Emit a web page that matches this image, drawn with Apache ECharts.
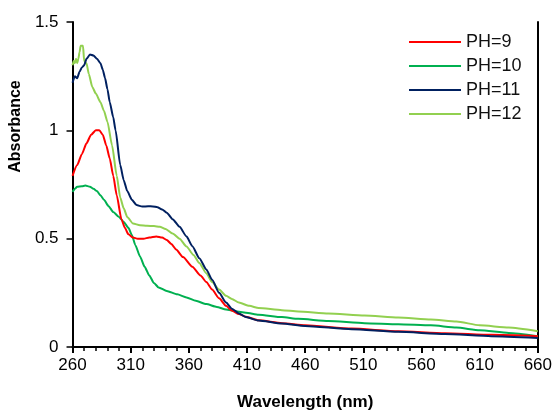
<!DOCTYPE html>
<html>
<head>
<meta charset="utf-8">
<script src="https://cdn.jsdelivr.net/npm/echarts@6/dist/echarts.min.js"></script>
<style>
html,body{margin:0;padding:0;background:#fff;}
#c{width:555px;height:416px;}
</style>
</head>
<body>
<div id="c"></div>
<script>
// X axis
const xMin = 260, xMax = 660, xStep = 50;
const yTicks = [0, 0.5, 1, 1.5];

// PH=9
const wl9 = [260,264,268,272,276,280,283,286,289,292,295,298,302,305,308,312,316,321,326,332,337,341,345,349,355,363,370,375,380,386,392,397,403,409,420,440,460,500,540,580,620,660];
const ab9 = [0.79,0.84,0.89,0.94,0.98,1.0,1.0,0.98,0.93,0.87,0.79,0.70,0.59,0.55,0.52,0.505,0.50,0.50,0.505,0.51,0.505,0.494,0.475,0.45,0.415,0.37,0.33,0.30,0.265,0.225,0.19,0.168,0.152,0.14,0.123,0.11,0.10,0.085,0.073,0.064,0.056,0.05];

// PH=10
const wl10 = [260,262,264,268,271,275,278,281,284,287,291,295,300,304,308,311,314,318,322,326,330,334,341,350,358,366,375,384,392,400,409,420,440,454,480,511,540,568,590,610,635,660];
const ab10 = [0.716,0.73,0.74,0.742,0.745,0.74,0.73,0.72,0.70,0.68,0.65,0.623,0.60,0.577,0.55,0.517,0.47,0.418,0.37,0.33,0.295,0.275,0.259,0.243,0.229,0.213,0.198,0.185,0.173,0.165,0.158,0.149,0.138,0.13,0.12,0.11,0.105,0.10,0.09,0.077,0.065,0.05];

// PH=11
const wl11 = [260,262,264,266,268,270,272,275,278,281,284,286,288,290,292,295,297,301,304,307,311,315,320,325,329,333,337,341,346,352,358,363,369,375,380,386,392,397,403,409,420,440,460,500,540,580,620,660];
const ab11 = [1.22,1.25,1.24,1.27,1.29,1.30,1.33,1.35,1.345,1.33,1.31,1.28,1.24,1.19,1.13,1.06,1.00,0.84,0.77,0.72,0.68,0.655,0.648,0.65,0.649,0.645,0.635,0.62,0.59,0.555,0.51,0.465,0.41,0.358,0.31,0.25,0.205,0.177,0.155,0.138,0.122,0.108,0.097,0.082,0.07,0.06,0.05,0.042];

// PH=12
const wl12 = [260,261,262,263,264,265,266,267,268,269,270,272,274,277,280,284,287,290,294,298,301,304,307,312,318,324,330,335,340,346,352,358,364,369,375,380,386,392,397,403,412,420,440,454,480,511,540,568,590,610,635,660];
const ab12 = [1.30,1.32,1.31,1.33,1.31,1.33,1.36,1.39,1.39,1.39,1.32,1.31,1.26,1.20,1.17,1.13,1.09,1.04,0.93,0.79,0.69,0.64,0.60,0.57,0.562,0.56,0.558,0.555,0.545,0.524,0.50,0.464,0.425,0.388,0.34,0.30,0.265,0.236,0.222,0.205,0.19,0.18,0.17,0.164,0.155,0.145,0.136,0.127,0.118,0.10,0.09,0.073];

const names = ['PH=9','PH=10','PH=11','PH=12'];
const colors = ['#ff0000','#00b050','#002060','#92d050'];
const wls = [wl9, wl10, wl11, wl12];
const abs = [ab9, ab10, ab11, ab12];

const FONT = "'Liberation Sans',Arial,sans-serif";

const chart = echarts.init(document.getElementById('c'), null, {renderer:'canvas'});
const series = names.map((n,i)=>({
  name:n, type:'line', symbol:'none', smooth:0.2, smoothMonotone:'x',
  color: colors[i],
  lineStyle:{width:2, color: colors[i]},
  data: wls[i].map((w,k)=>[w - xMin, abs[i][k]]),
  z: [3,2,4,1][i]
}));

chart.setOption({
  animation:false,
  backgroundColor:'#fff',
  grid:{left:72, right:14, top:22, bottom:64, containLabel:false},
  legend:{
    orient:'vertical', left:404, top:27,
    itemWidth:52, itemHeight:14, itemGap:4,
    data:names,
    textStyle:{fontFamily:FONT, fontSize:18, color:'#111', lineHeight:20},
    icon:'path://M0,0 L52,0 L52,2 L0,2 Z'
  },
  xAxis:{
    type:'value', min:0, max:xMax - xMin, interval:xStep,
    axisLine:{show:true, onZero:false, lineStyle:{color:'#000', width:2}},
    axisTick:{show:true, inside:false, length:6, lineStyle:{color:'#000', width:2}},
    minorTick:{show:true, splitNumber:5, length:4, lineStyle:{color:'#000', width:1.5}},
    splitLine:{show:false},
    axisLabel:{color:'#000', fontFamily:FONT, fontSize:17, margin:10, formatter:v=>String(v + xMin)},
    name:'Wavelength (nm)', nameLocation:'middle', nameGap:47,
    nameTextStyle:{color:'#000', fontFamily:FONT, fontSize:17, fontWeight:'bold'}
  },
  yAxis:[{
    type:'value', min:yTicks[0], max:yTicks[yTicks.length-1], interval:0.5,
    axisLine:{show:true, lineStyle:{color:'#000', width:2}},
    axisTick:{show:true, inside:false, length:6, lineStyle:{color:'#000', width:1.5}},
    splitLine:{show:false},
    axisLabel:{color:'#000', fontFamily:FONT, fontSize:17, margin:14, formatter:v=>String(v)},
    name:'Absorbance', nameLocation:'middle', nameGap:42, nameRotate:90,
    nameTextStyle:{color:'#000', fontFamily:FONT, fontSize:16, fontWeight:'bold', padding:[0,0,0,116]}
  },{
    type:'value', position:'right', min:0, max:1.5, interval:0.5,
    axisLine:{show:true, lineStyle:{color:'#000', width:2}},
    axisTick:{show:false}, axisLabel:{show:false}, splitLine:{show:false}
  }],
  series: series
});
</script>
</body>
</html>
